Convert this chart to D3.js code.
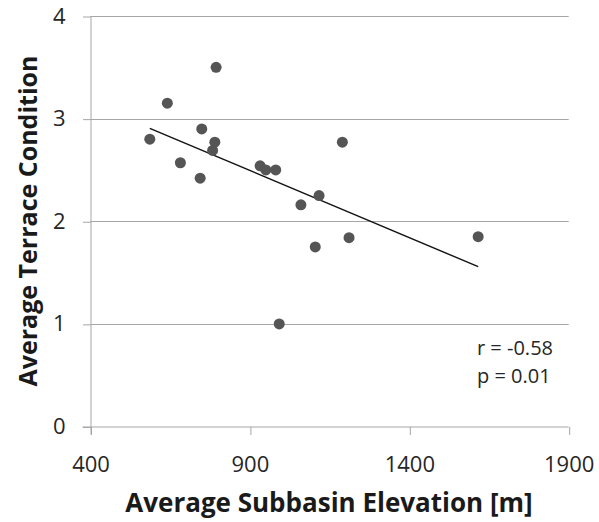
<!DOCTYPE html>
<html>
<head>
<meta charset="utf-8">
<script src="https://cdn.jsdelivr.net/npm/d3@7"></script>
<style>
  body { margin: 0; background: #fff; }
  text { font-family: "Open Sans", sans-serif; }
  .tick text { font-size: 22px; fill: #262626; }
  .domain, .tick line { stroke: #a6a6a6; }
  .grid line { stroke: #a6a6a6; stroke-width: 1; }
  .title { font-weight: 700; fill: #1a1a1a; }
  .stat { font-size: 20px; fill: #262626; }
</style>
</head>
<body>
<svg></svg>
<script>
// Scatter: terrace condition vs subbasin elevation

// Data
var elevation = [586, 641, 682, 744, 749, 783, 790, 794, 932, 950, 981, 992, 1060, 1105, 1117, 1190, 1211, 1616];
var condition = [2.80, 3.15, 2.57, 2.42, 2.90, 2.69, 2.77, 3.50, 2.54, 2.50, 2.50, 1.00, 2.16, 1.75, 2.25, 2.77, 1.84, 1.85];
var xTicks = [400, 900, 1400, 1900];
var yTicks = [0, 1, 2, 3, 4];
var statLines = ["r = -0.58", "p = 0.01"];

// Layout
var svgWidth = 599,
    svgHeight = 522,
    plot = {left: 90.5, right: 568.7, top: 16, bottom: 426.5};

var x = d3.scaleLinear().domain([400, 1900]).range([plot.left, plot.right]);
var y = d3.scaleLinear().domain([0, 4]).range([plot.bottom, plot.top]);

var svg = d3.select("svg")
  .attr("width", svgWidth)
  .attr("height", svgHeight);

// Horizontal gridlines
svg.append("g")
  .classed("grid", true)
  .selectAll("line")
  .data(yTicks.slice(1))
  .enter()
    .append("line")
    .attr("x1", plot.left)
    .attr("x2", plot.right)
    .attr("y1", function (d) { return Math.round(y(d)) + 0.5; })
    .attr("y2", function (d) { return Math.round(y(d)) + 0.5; });

// Axes
var yAxis = svg.append("g")
  .attr("transform", "translate(" + [plot.left, 0] + ")")
  .call(d3.axisLeft(y).tickValues(yTicks).tickSizeInner(8).tickSizeOuter(0).tickPadding(17).tickFormat(d3.format("d")));

var xAxis = svg.append("g")
  .attr("transform", "translate(" + [0, plot.bottom] + ")")
  .call(d3.axisBottom(x).tickValues(xTicks).tickSizeInner(8).tickSizeOuter(0).tickPadding(22).tickFormat(d3.format("d")));

svg.selectAll(".tick line")
  .attr("transform", "translate(0.5,0.5)");

// y axis line runs down past the x axis, like the tick stubs
yAxis.select(".domain").attr("d", "M0.5," + plot.top + "V" + (plot.bottom + 8));
xAxis.select(".domain").attr("d", "M" + (plot.left - 8) + ",0.5H" + plot.right);

// Linear regression
var mx = d3.mean(elevation), my = d3.mean(condition);
var sxy = d3.sum(elevation, function (v, i) { return (v - mx) * (condition[i] - my); });
var sxx = d3.sum(elevation, function (v) { return (v - mx) * (v - mx); });
var slope = sxy / sxx,
    intercept = my - slope * mx;
var xExt = d3.extent(elevation);

svg.append("line")
  .attr("x1", x(xExt[0]))
  .attr("y1", y(intercept + slope * xExt[0]))
  .attr("x2", x(xExt[1]))
  .attr("y2", y(intercept + slope * xExt[1]))
  .style("stroke", "#111")
  .style("stroke-width", 1.4);

// Points
svg.append("g")
  .selectAll("circle")
  .data(elevation)
  .enter()
    .append("circle")
    .attr("cx", function (d) { return x(d); })
    .attr("cy", function (d, i) { return y(condition[i]); })
    .attr("r", 5.5)
    .style("fill", "#555555");

// Stats
svg.append("g")
  .selectAll("text")
  .data(statLines)
  .enter()
    .append("text")
    .classed("stat", true)
    .attr("x", 477)
    .attr("y", function (d, i) { return 355 + i * 27.5; })
    .text(function (d) { return d; });

// Axis titles
svg.append("text")
  .classed("title", true)
  .attr("text-anchor", "middle")
  .style("font-size", "26px")
  .attr("x", 329)
  .attr("y", 512)
  .text("Average Subbasin Elevation [m]");

svg.append("text")
  .classed("title", true)
  .attr("text-anchor", "middle")
  .style("font-size", "25px")
  .attr("transform", "translate(" + [37, 221] + ") rotate(-90)")
  .text("Average Terrace Condition");
</script>
</body>
</html>
